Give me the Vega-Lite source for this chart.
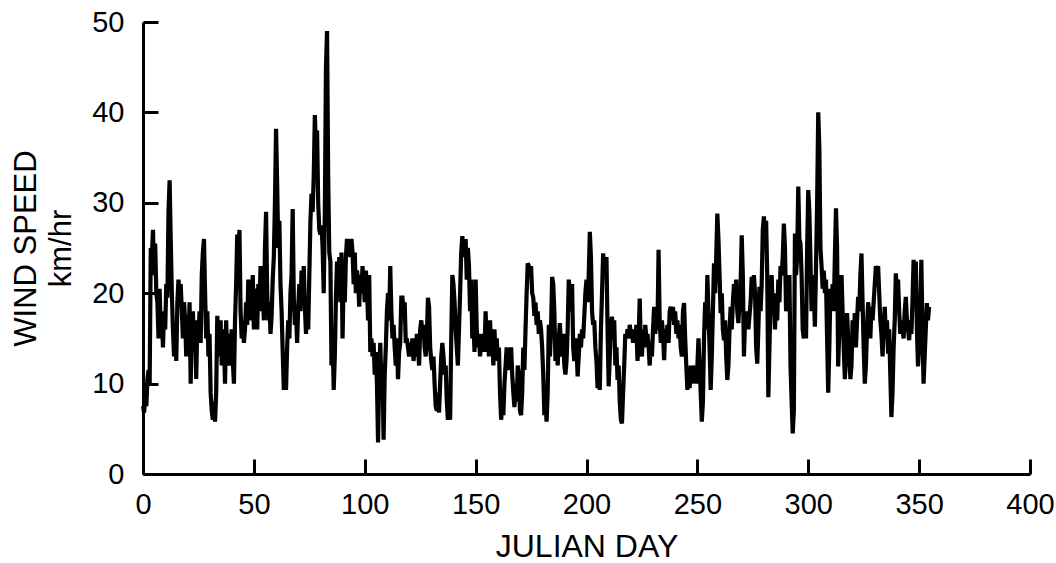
{
"$schema":"https://vega.github.io/schema/vega-lite/v6.json",
"autosize":"none","width":887,"height":452,
"padding":{"left":143,"top":22,"right":26,"bottom":89},
"background":"white",
"config":{"view":{"stroke":null,"fill":null},"font":"Liberation Sans"},
"data":{"values":[
{"d":0,"v":7.5},{"d":0.5,"v":6.8},{"d":1,"v":8.5},{"d":1.5,"v":7.5},{"d":2,"v":10.5},{"d":2.5,"v":11.5},{"d":3,"v":10},{"d":3.5,"v":25},{"d":4,"v":24},{"d":4.5,"v":27},{"d":5,"v":22},{"d":5.5,"v":25.5},{"d":6,"v":20},{"d":6.5,"v":19},{"d":7,"v":15},{"d":7.5,"v":20.5},{"d":8,"v":15.5},{"d":8.5,"v":17.5},{"d":9,"v":14},{"d":9.5,"v":18},{"d":10,"v":16},{"d":10.5,"v":21},{"d":11,"v":19.5},{"d":11.5,"v":29},{"d":12,"v":32.5},{"d":12.5,"v":26},{"d":13,"v":20},{"d":13.5,"v":16},{"d":14,"v":13},{"d":14.5,"v":15.5},{"d":15,"v":12.5},{"d":15.5,"v":19},{"d":16,"v":21.5},{"d":16.5,"v":20},{"d":17,"v":21},{"d":17.5,"v":18},{"d":18,"v":15},{"d":18.5,"v":19},{"d":19,"v":17},{"d":19.5,"v":13},{"d":20,"v":17.5},{"d":20.5,"v":14},{"d":21,"v":19},{"d":21.5,"v":10},{"d":22,"v":16},{"d":22.5,"v":18},{"d":23,"v":13.5},{"d":23.5,"v":16.5},{"d":24,"v":10.5},{"d":24.5,"v":17},{"d":25,"v":15},{"d":25.5,"v":18},{"d":26,"v":14.5},{"d":26.5,"v":22},{"d":27,"v":24.5},{"d":27.5,"v":26},{"d":28,"v":20},{"d":28.5,"v":15},{"d":29,"v":18},{"d":29.5,"v":13},{"d":30,"v":15.5},{"d":30.5,"v":9},{"d":31,"v":7},{"d":31.5,"v":6},{"d":32,"v":8},{"d":32.5,"v":5.8},{"d":33,"v":9},{"d":33.5,"v":17.5},{"d":34,"v":15},{"d":34.5,"v":13},{"d":35,"v":17},{"d":35.5,"v":12},{"d":36,"v":16},{"d":36.5,"v":14.5},{"d":37,"v":10},{"d":37.5,"v":17},{"d":38,"v":13},{"d":38.5,"v":15.5},{"d":39,"v":12},{"d":39.5,"v":14},{"d":40,"v":16},{"d":40.5,"v":12.5},{"d":41,"v":10},{"d":41.5,"v":17},{"d":42,"v":21},{"d":42.5,"v":26.5},{"d":43,"v":24},{"d":43.5,"v":27},{"d":44,"v":18},{"d":44.5,"v":15},{"d":45,"v":17},{"d":45.5,"v":14.5},{"d":46,"v":16},{"d":46.5,"v":19},{"d":47,"v":16.5},{"d":47.5,"v":21.5},{"d":48,"v":18},{"d":48.5,"v":20},{"d":49,"v":17},{"d":49.5,"v":22},{"d":50,"v":16},{"d":50.5,"v":18.5},{"d":51,"v":20.5},{"d":51.5,"v":16},{"d":52,"v":21},{"d":52.5,"v":18},{"d":53,"v":23},{"d":53.5,"v":19},{"d":54,"v":21},{"d":54.5,"v":17},{"d":55,"v":25},{"d":55.5,"v":29},{"d":56,"v":20},{"d":56.5,"v":17},{"d":57,"v":19},{"d":57.5,"v":15.5},{"d":58,"v":17.5},{"d":58.5,"v":21.5},{"d":59,"v":24},{"d":59.5,"v":30},{"d":60,"v":38.2},{"d":60.5,"v":32},{"d":61,"v":25},{"d":61.5,"v":28},{"d":62,"v":21},{"d":62.5,"v":18},{"d":63,"v":13.5},{"d":63.5,"v":9.3},{"d":64,"v":12},{"d":64.5,"v":9.3},{"d":65,"v":14},{"d":65.5,"v":17},{"d":66,"v":15},{"d":66.5,"v":20},{"d":67,"v":22},{"d":67.5,"v":29.3},{"d":68,"v":19.5},{"d":68.5,"v":16.5},{"d":69,"v":18},{"d":69.5,"v":14.5},{"d":70,"v":18.5},{"d":70.5,"v":21},{"d":71,"v":18},{"d":71.5,"v":22.5},{"d":72,"v":20},{"d":72.5,"v":23},{"d":73,"v":18.5},{"d":73.5,"v":15.5},{"d":74,"v":19},{"d":74.5,"v":16},{"d":75,"v":22},{"d":75.5,"v":28},{"d":76,"v":31},{"d":76.5,"v":29},{"d":77,"v":33},{"d":77.5,"v":39.7},{"d":78,"v":36},{"d":78.5,"v":38},{"d":79,"v":30},{"d":79.5,"v":27},{"d":80,"v":26.5},{"d":80.5,"v":27.5},{"d":81,"v":25},{"d":81.5,"v":20},{"d":82,"v":29},{"d":82.5,"v":45},{"d":83,"v":49},{"d":83.5,"v":33},{"d":84,"v":24.5},{"d":84.5,"v":23.5},{"d":85,"v":12},{"d":85.5,"v":15},{"d":86,"v":9.3},{"d":86.5,"v":13},{"d":87,"v":19.5},{"d":87.5,"v":23.5},{"d":88,"v":21},{"d":88.5,"v":24},{"d":89,"v":19},{"d":89.5,"v":24.5},{"d":90,"v":15},{"d":90.5,"v":22},{"d":91,"v":19},{"d":91.5,"v":24},{"d":92,"v":26},{"d":92.5,"v":25},{"d":93,"v":25.5},{"d":93.5,"v":24},{"d":94,"v":26},{"d":94.5,"v":24.5},{"d":95,"v":21},{"d":95.5,"v":24.5},{"d":96,"v":20},{"d":96.5,"v":22.5},{"d":97,"v":21.5},{"d":97.5,"v":18.5},{"d":98,"v":22},{"d":98.5,"v":20},{"d":99,"v":23},{"d":99.5,"v":21},{"d":100,"v":19},{"d":100.5,"v":22.5},{"d":101,"v":20.5},{"d":101.5,"v":17},{"d":102,"v":22},{"d":102.5,"v":13.5},{"d":103,"v":15},{"d":103.5,"v":13},{"d":104,"v":14.5},{"d":104.5,"v":11},{"d":105,"v":13.5},{"d":105.5,"v":10},{"d":106,"v":3.5},{"d":106.5,"v":11},{"d":107,"v":14.5},{"d":107.5,"v":10},{"d":108,"v":11.5},{"d":108.5,"v":3.8},{"d":109,"v":11},{"d":109.5,"v":14},{"d":110,"v":18},{"d":110.5,"v":20},{"d":111,"v":17},{"d":111.5,"v":23},{"d":112,"v":18},{"d":112.5,"v":15},{"d":113,"v":16.5},
{"d":113.5,"v":14},{"d":114,"v":12},{"d":114.5,"v":15},{"d":115,"v":10.5},{"d":115.5,"v":13.5},{"d":116,"v":14.5},{"d":116.5,"v":19.5},{"d":117,"v":19.5},{"d":117.5,"v":18},{"d":118,"v":19},{"d":118.5,"v":14.5},{"d":119,"v":15},{"d":119.5,"v":14},{"d":120,"v":13},{"d":120.5,"v":14.5},{"d":121,"v":13.5},{"d":121.5,"v":15},{"d":122,"v":12.5},{"d":122.5,"v":14},{"d":123,"v":13},{"d":123.5,"v":15.5},{"d":124,"v":14},{"d":124.5,"v":12},{"d":125,"v":16},{"d":125.5,"v":17},{"d":126,"v":15.5},{"d":126.5,"v":16.5},{"d":127,"v":14},{"d":127.5,"v":13},{"d":128,"v":15},{"d":128.5,"v":19.5},{"d":129,"v":18.5},{"d":129.5,"v":14},{"d":130,"v":12.5},{"d":130.5,"v":11.5},{"d":131,"v":13},{"d":131.5,"v":10},{"d":132,"v":7.5},{"d":132.5,"v":7},{"d":133,"v":9},{"d":133.5,"v":6.8},{"d":134,"v":10},{"d":134.5,"v":13},{"d":135,"v":14.5},{"d":135.5,"v":13},{"d":136,"v":11},{"d":136.5,"v":12},{"d":137,"v":8},{"d":137.5,"v":6},{"d":138,"v":7},{"d":138.5,"v":6},{"d":139,"v":15},{"d":139.5,"v":22},{"d":140,"v":21},{"d":140.5,"v":19},{"d":141,"v":16},{"d":141.5,"v":14},{"d":142,"v":12},{"d":142.5,"v":16},{"d":143,"v":20},{"d":143.5,"v":24.5},{"d":144,"v":26.3},{"d":144.5,"v":25},{"d":145,"v":24},{"d":145.5,"v":26},{"d":146,"v":21.5},{"d":146.5,"v":25},{"d":147,"v":23},{"d":147.5,"v":18},{"d":148,"v":21.5},{"d":148.5,"v":15},{"d":149,"v":17},{"d":149.5,"v":13.5},{"d":150,"v":21.5},{"d":150.5,"v":16},{"d":151,"v":14},{"d":151.5,"v":15.5},{"d":152,"v":13},{"d":152.5,"v":15},{"d":153,"v":14},{"d":153.5,"v":15.5},{"d":154,"v":13.5},{"d":154.5,"v":18},{"d":155,"v":14.5},{"d":155.5,"v":16},{"d":156,"v":13},{"d":156.5,"v":17},{"d":157,"v":14},{"d":157.5,"v":15.5},{"d":158,"v":12},{"d":158.5,"v":16},{"d":159,"v":13},{"d":159.5,"v":15},{"d":160,"v":12.5},{"d":160.5,"v":14},{"d":161,"v":9},{"d":161.5,"v":6},{"d":162,"v":7.5},{"d":162.5,"v":6.5},{"d":163,"v":10},{"d":163.5,"v":12},{"d":164,"v":14},{"d":164.5,"v":11.5},{"d":165,"v":13},{"d":165.5,"v":12},{"d":166,"v":14},{"d":166.5,"v":11},{"d":167,"v":9},{"d":167.5,"v":7.4},{"d":168,"v":10},{"d":168.5,"v":8},{"d":169,"v":12},{"d":169.5,"v":11},{"d":170,"v":7},{"d":170.5,"v":6.5},{"d":171,"v":9},{"d":171.5,"v":14},{"d":172,"v":11.5},{"d":172.5,"v":16},{"d":173,"v":20},{"d":173.5,"v":23.3},{"d":174,"v":23},{"d":174.5,"v":22},{"d":175,"v":23},{"d":175.5,"v":20},{"d":176,"v":19.5},{"d":176.5,"v":17.5},{"d":177,"v":19},{"d":177.5,"v":16.5},{"d":178,"v":18},{"d":178.5,"v":15.5},{"d":179,"v":17},{"d":179.5,"v":16},{"d":180,"v":14},{"d":180.5,"v":11},{"d":181,"v":6.5},{"d":181.5,"v":8},{"d":182,"v":5.8},{"d":182.5,"v":9},{"d":183,"v":16.5},{"d":183.5,"v":13},{"d":184,"v":16},{"d":184.5,"v":21.8},{"d":185,"v":21},{"d":185.5,"v":18},{"d":186,"v":12.5},{"d":186.5,"v":14.5},{"d":187,"v":12},{"d":187.5,"v":15},{"d":188,"v":16.7},{"d":188.5,"v":14},{"d":189,"v":13},{"d":189.5,"v":15.5},{"d":190,"v":12},{"d":190.5,"v":11},{"d":191,"v":12.5},{"d":191.5,"v":16},{"d":192,"v":21.5},{"d":192.5,"v":20},{"d":193,"v":18},{"d":193.5,"v":21},{"d":194,"v":14},{"d":194.5,"v":12.5},{"d":195,"v":15},{"d":195.5,"v":14},{"d":196,"v":10.8},{"d":196.5,"v":13},{"d":197,"v":15.5},{"d":197.5,"v":14},{"d":198,"v":16},{"d":198.5,"v":15},{"d":199,"v":17.5},{"d":199.5,"v":20},{"d":200,"v":21.5},{"d":200.5,"v":19},{"d":201,"v":22},{"d":201.5,"v":26.8},{"d":202,"v":24},{"d":202.5,"v":18},{"d":203,"v":16.5},{"d":203.5,"v":17},{"d":204,"v":14},{"d":204.5,"v":12.5},{"d":205,"v":9.5},{"d":205.5,"v":11},{"d":206,"v":9.3},{"d":206.5,"v":16},{"d":207,"v":20},{"d":207.5,"v":24.4},{"d":208,"v":23},{"d":208.5,"v":22},{"d":209,"v":24},{"d":209.5,"v":16},{"d":210,"v":9.7},{"d":210.5,"v":13},{"d":211,"v":16.5},{"d":211.5,"v":17.4},{"d":212,"v":15},{"d":212.5,"v":17},{"d":213,"v":12},{"d":213.5,"v":14},{"d":214,"v":10.4},{"d":214.5,"v":12},{"d":215,"v":8},{"d":215.5,"v":6},{"d":216,"v":5.6},{"d":216.5,"v":9},{"d":217,"v":12},{"d":217.5,"v":15.5},{"d":218,"v":15},{"d":218.5,"v":16},{"d":219,"v":15},{"d":219.5,"v":16.5},{"d":220,"v":15.5},{"d":220.5,"v":16},{"d":221,"v":14.5},{"d":221.5,"v":16},{"d":222,"v":15},{"d":222.5,"v":16.5},{"d":223,"v":12.5},{"d":223.5,"v":15},{"d":224,"v":19.4},{"d":224.5,"v":14},{"d":225,"v":13},{"d":225.5,"v":16},{"d":226,"v":14},{"d":226.5,"v":16.5},{"d":227,"v":15},{"d":227.5,"v":15.5},{"d":228,"v":14},{"d":228.5,"v":12},{"d":229,"v":14.5},{"d":229.5,"v":13},{"d":230,"v":16},{"d":230.5,"v":18.5},{"d":231,"v":15.5},{"d":231.5,"v":17},{"d":232,"v":16},{"d":232.5,"v":24.8},{"d":233,"v":17},{"d":233.5,"v":14.5},{"d":234,"v":17},{"d":234.5,"v":15.5},{"d":235,"v":12.6},{"d":235.5,"v":16},{"d":236,"v":15},{"d":236.5,"v":16.5},{"d":237,"v":14.5},{"d":237.5,"v":18},{"d":238,"v":18.5},{"d":238.5,"v":17},{"d":239,"v":18.5},{"d":239.5,"v":16.5},{"d":240,"v":18},{"d":240.5,"v":15.5},{"d":241,"v":17},{"d":241.5,"v":15},{"d":242,"v":16.5},{"d":242.5,"v":14},{"d":243,"v":13},{"d":243.5,"v":18},{"d":244,"v":18.9},{"d":244.5,"v":15},{"d":245,"v":12},{"d":245.5,"v":9.3},{"d":246,"v":11},{"d":246.5,"v":9.5},{"d":247,"v":12},{"d":247.5,"v":10},{"d":248,"v":12},{"d":248.5,"v":10.5},{"d":249,"v":11.5},{"d":249.5,"v":10},{"d":250,"v":12},{"d":250.5,"v":15},{"d":251,"v":12},{"d":251.5,"v":9},{"d":252,"v":5.8},{"d":252.5,"v":8},{"d":253,"v":15},{"d":253.5,"v":19},{"d":254,"v":16},{"d":254.5,"v":22},{"d":255,"v":18},{"d":255.5,"v":14},{"d":256,"v":9.3},{"d":256.5,"v":13},{"d":257,"v":18},{"d":257.5,"v":23.3},{"d":258,"v":20},{"d":258.5,"v":24},{"d":259,"v":28.8},{"d":259.5,"v":26},{"d":260,"v":22},{"d":260.5,"v":17.8},{"d":261,"v":20},{"d":261.5,"v":16},{"d":262,"v":14.8},{"d":262.5,"v":17},{"d":263,"v":13},{"d":263.5,"v":10.4},{"d":264,"v":12},{"d":264.5,"v":16},{"d":265,"v":18.5},{"d":265.5,"v":16},{"d":266,"v":19},{"d":266.5,"v":21},{"d":267,"v":20},{"d":267.5,"v":21.5},{"d":268,"v":18},{"d":268.5,"v":16.7},{"d":269,"v":19},{"d":269.5,"v":21},{"d":270,"v":26.4},{"d":270.5,"v":22},{"d":271,"v":13},{"d":271.5,"v":17},{"d":272,"v":16.5},{"d":272.5,"v":18},{"d":273,"v":16},{"d":273.5,"v":17.5},{"d":274,"v":19},{"d":274.5,"v":21.8},{"d":275,"v":20.5},{"d":275.5,"v":22},{"d":276,"v":20},{"d":276.5,"v":14},{"d":277,"v":12.2},{"d":277.5,"v":16},{"d":278,"v":20.7},{"d":278.5,"v":18},{"d":279,"v":21},{"d":279.5,"v":27},{"d":280,"v":28.5},{"d":280.5,"v":26},{"d":281,"v":28},{"d":281.5,"v":22},{"d":282,"v":8.5},{"d":282.5,"v":14},{"d":283,"v":19},{"d":283.5,"v":22},{"d":284,"v":18},{"d":284.5,"v":20},{"d":285,"v":16},{"d":285.5,"v":19},{"d":286,"v":17},{"d":286.5,"v":21.5},{"d":287,"v":19},{"d":287.5,"v":23},{"d":288,"v":22},{"d":288.5,"v":24},{"d":289,"v":27.7},{"d":289.5,"v":25},{"d":290,"v":18},{"d":290.5,"v":20},{"d":291,"v":19},{"d":291.5,"v":22},{"d":292,"v":12},{"d":292.5,"v":8},{"d":293,"v":4.5},{"d":293.5,"v":7},{"d":294,"v":26.6},{"d":294.5,"v":22},{"d":295,"v":24},{"d":295.5,"v":31.8},{"d":296,"v":26},{"d":296.5,"v":25.5},{"d":297,"v":22},{"d":297.5,"v":16},{"d":298,"v":15},{"d":298.5,"v":16.5},{"d":299,"v":15},{"d":299.5,"v":25},{"d":300,"v":31.4},{"d":300.5,"v":29},{"d":301,"v":23.7},{"d":301.5,"v":18},{"d":302,"v":22},{"d":302.5,"v":20},{"d":303,"v":16.3},{"d":303.5,"v":23},{"d":304,"v":30},{"d":304.5,"v":40},{"d":305,"v":36},{"d":305.5,"v":25},{"d":306,"v":23},{"d":306.5,"v":20.5},{"d":307,"v":22.5},{"d":307.5,"v":20},{"d":308,"v":21.5},{"d":308.5,"v":15},{"d":309,"v":9},{"d":309.5,"v":14},{"d":310,"v":20.5},{"d":310.5,"v":19},{"d":311,"v":21},{"d":311.5,"v":18},{"d":312,"v":24},{"d":312.5,"v":29.4},{"d":313,"v":25},{"d":313.5,"v":11.9},{"d":314,"v":16},{"d":314.5,"v":19},{"d":315,"v":22},{"d":315.5,"v":18},{"d":316,"v":14},{"d":316.5,"v":10.5},{"d":317,"v":13},{"d":317.5,"v":17.8},{"d":318,"v":15},{"d":318.5,"v":13},{"d":319,"v":10.5},{"d":319.5,"v":12},{"d":320,"v":17},{"d":320.5,"v":15},{"d":321,"v":17.8},{"d":321.5,"v":14},{"d":322,"v":17},{"d":322.5,"v":19.6},{"d":323,"v":18},{"d":323.5,"v":22},{"d":324,"v":24.4},{"d":324.5,"v":19},{"d":325,"v":14},{"d":325.5,"v":10},{"d":326,"v":12},{"d":326.5,"v":16},{"d":327,"v":19},{"d":327.5,"v":17.5},{"d":328,"v":15},{"d":328.5,"v":18.5},{"d":329,"v":17},{"d":329.5,"v":19},{"d":330,"v":21},{"d":330.5,"v":23},{"d":331,"v":22},{"d":331.5,"v":23},{"d":332,"v":20},{"d":332.5,"v":17},{"d":333,"v":15.5},{"d":333.5,"v":13},{"d":334,"v":16},{"d":334.5,"v":18.5},{"d":335,"v":15},{"d":335.5,"v":17},{"d":336,"v":13.3},{"d":336.5,"v":16},{"d":337,"v":11},{"d":337.5,"v":6.3},{"d":338,"v":9},{"d":338.5,"v":14},{"d":339,"v":17},{"d":339.5,"v":22.2},{"d":340,"v":20},{"d":340.5,"v":21.5},{"d":341,"v":18},{"d":341.5,"v":15.5},{"d":342,"v":17},{"d":342.5,"v":16},{"d":343,"v":15},{"d":343.5,"v":18},{"d":344,"v":19.6},{"d":344.5,"v":17},{"d":345,"v":16},{"d":345.5,"v":14.8},{"d":346,"v":17},{"d":346.5,"v":15.5},{"d":347,"v":19},{"d":347.5,"v":23.7},{"d":348,"v":21},{"d":348.5,"v":23.5},{"d":349,"v":16},{"d":349.5,"v":11.9},{"d":350,"v":14},{"d":350.5,"v":18},{"d":351,"v":23.7},{"d":351.5,"v":16},{"d":352,"v":10},{"d":352.5,"v":13},{"d":353,"v":16},{"d":353.5,"v":18.9},{"d":354,"v":17},{"d":354.5,"v":18.5}
]},
"mark":{"type":"line","color":"black","strokeWidth":4.2,"strokeJoin":"miter"},
"encoding":{
"x":{"field":"d","type":"quantitative","scale":{"domain":[0,400],"nice":false},
"axis":{"zindex":1,"title":"JULIAN DAY","values":[0,50,100,150,200,250,300,350,400],"grid":false,"ticks":true,"domainColor":"black","domainWidth":3,"tickColor":"black","tickWidth":3,"tickSize":-15,"tickOpacity":1,"labelPadding":31,"labelFontSize":29,"labelColor":"black","labelFlush":false,"labelFont":"Liberation Sans","titleFont":"Liberation Sans","titleFontSize":32,"titleFontWeight":"normal","titleColor":"black","titleBaseline":"alphabetic","titleY":82}},
"y":{"field":"v","type":"quantitative","scale":{"domain":[0,50],"nice":false},
"axis":{"zindex":1,"title":["WIND SPEED","km/hr"],"values":[0,10,20,30,40,50],"grid":false,"ticks":true,"domainColor":"black","domainWidth":3,"tickColor":"black","tickWidth":3,"tickSize":-15,"tickOpacity":1,"labelPadding":34,"labelFontSize":29,"labelColor":"black","labelFlush":false,"labelFont":"Liberation Sans","titleFont":"Liberation Sans","titleFontSize":31,"titleFontWeight":"normal","titleColor":"black","titleAngle":-90,"titleAlign":"center","titleBaseline":"alphabetic","titleLineHeight":35,"titleX":-108,"titleY":226}}
}
}
